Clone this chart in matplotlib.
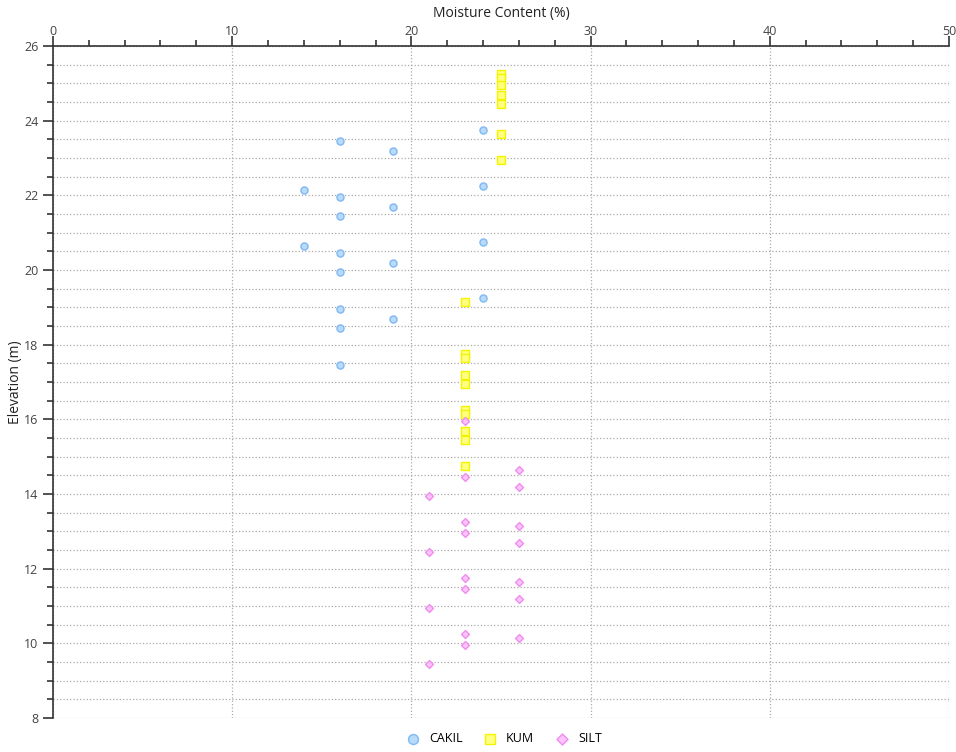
import matplotlib.pyplot as plt
from matplotlib.ticker import MultipleLocator

# CAKIL (gravel)
cakil_mc = [24, 16, 19, 24, 14, 16, 19, 16, 24, 14, 16, 19, 16, 24, 16, 19, 16, 16]
cakil_el = [23.75, 23.45, 23.2, 22.25, 22.15, 21.95, 21.7, 21.45, 20.75, 20.65,
            20.45, 20.2, 19.95, 19.25, 18.95, 18.7, 18.45, 17.45]

# KUM (sand)
kum_mc = [25, 25, 25, 25, 25, 25, 25, 23, 23, 23, 23, 23, 23, 23, 23, 23, 23]
kum_el = [25.25, 25.15, 24.95, 24.7, 24.45, 23.65, 22.95,
          19.15, 17.75, 17.65, 17.2, 16.95, 16.25, 16.15, 15.7, 15.45, 14.75]

# SILT
silt_mc = [23, 26, 23, 26, 21, 23, 26, 23, 26, 21, 23, 26, 23, 26, 21, 23, 26, 23, 21]
silt_el = [15.95, 14.65, 14.45, 14.2, 13.95, 13.25, 13.15, 12.95, 12.7, 12.45,
           11.75, 11.65, 11.45, 11.2, 10.95, 10.25, 10.15, 9.95, 9.45]

plt.rcParams['font.family'] = ['Open Sans', 'DejaVu Sans']

fig = plt.figure(figsize=(9.56, 7.52), dpi=100)
ax = fig.add_axes([0.0554, 0.0452, 0.9372, 0.8936])

ax.scatter(cakil_mc, cakil_el, s=26, marker='o', facecolor='#b9dbfb',
           edgecolor='#7fb8f2', linewidth=1.0, label='CAKIL', zorder=3)
ax.scatter(kum_mc, kum_el, s=30, marker='s', facecolor='#ffff80',
           edgecolor='#f4f400', linewidth=1.0, label='KUM', zorder=3)
ax.scatter(silt_mc, silt_el, s=16, marker='D', facecolor='#fcc4fc',
           edgecolor='#f08cf0', linewidth=1.0, label='SILT', zorder=3)

ax.set_xlim(0, 50)
ax.set_ylim(8, 26)
ax.xaxis.set_major_locator(MultipleLocator(10))
ax.xaxis.set_minor_locator(MultipleLocator(2))
ax.yaxis.set_major_locator(MultipleLocator(2))
ax.yaxis.set_minor_locator(MultipleLocator(0.5))

ax.xaxis.tick_top()
# axis titles placed in figure coords to match the reference spacing
fig.text(0.5244, 1 - 14 / 752, 'Moisture Content (%)', fontsize=10,
         color='#222222', ha='center', va='center')
fig.text(16 / 956, 1 - 382 / 752, 'Elevation (m)', fontsize=10,
         color='#222222', ha='center', va='center', rotation=90)

ax.tick_params(which='major', length=7, width=1.2, color='#333333',
               labelsize=9, labelcolor='#444444')
ax.tick_params(axis='x', which='major', pad=-1)
ax.tick_params(which='minor', length=4, width=1.2, color='#333333')

for side in ['right', 'bottom']:
    ax.spines[side].set_visible(False)
for side in ['left', 'top']:
    ax.spines[side].set_color('#333333')
    ax.spines[side].set_linewidth(1.2)

ax.grid(axis='x', which='major', linestyle=':', color='#aaaaaa', linewidth=0.9)
ax.grid(axis='y', which='both', linestyle=':', color='#aaaaaa', linewidth=0.9)
ax.set_axisbelow(True)

leg = ax.legend(loc='upper center', bbox_to_anchor=(0.5, -0.004), ncol=3,
                frameon=False, fontsize=9, markerscale=1.4, handletextpad=0.3,
                columnspacing=1.2)

plt.savefig('out.png', dpi=100)
